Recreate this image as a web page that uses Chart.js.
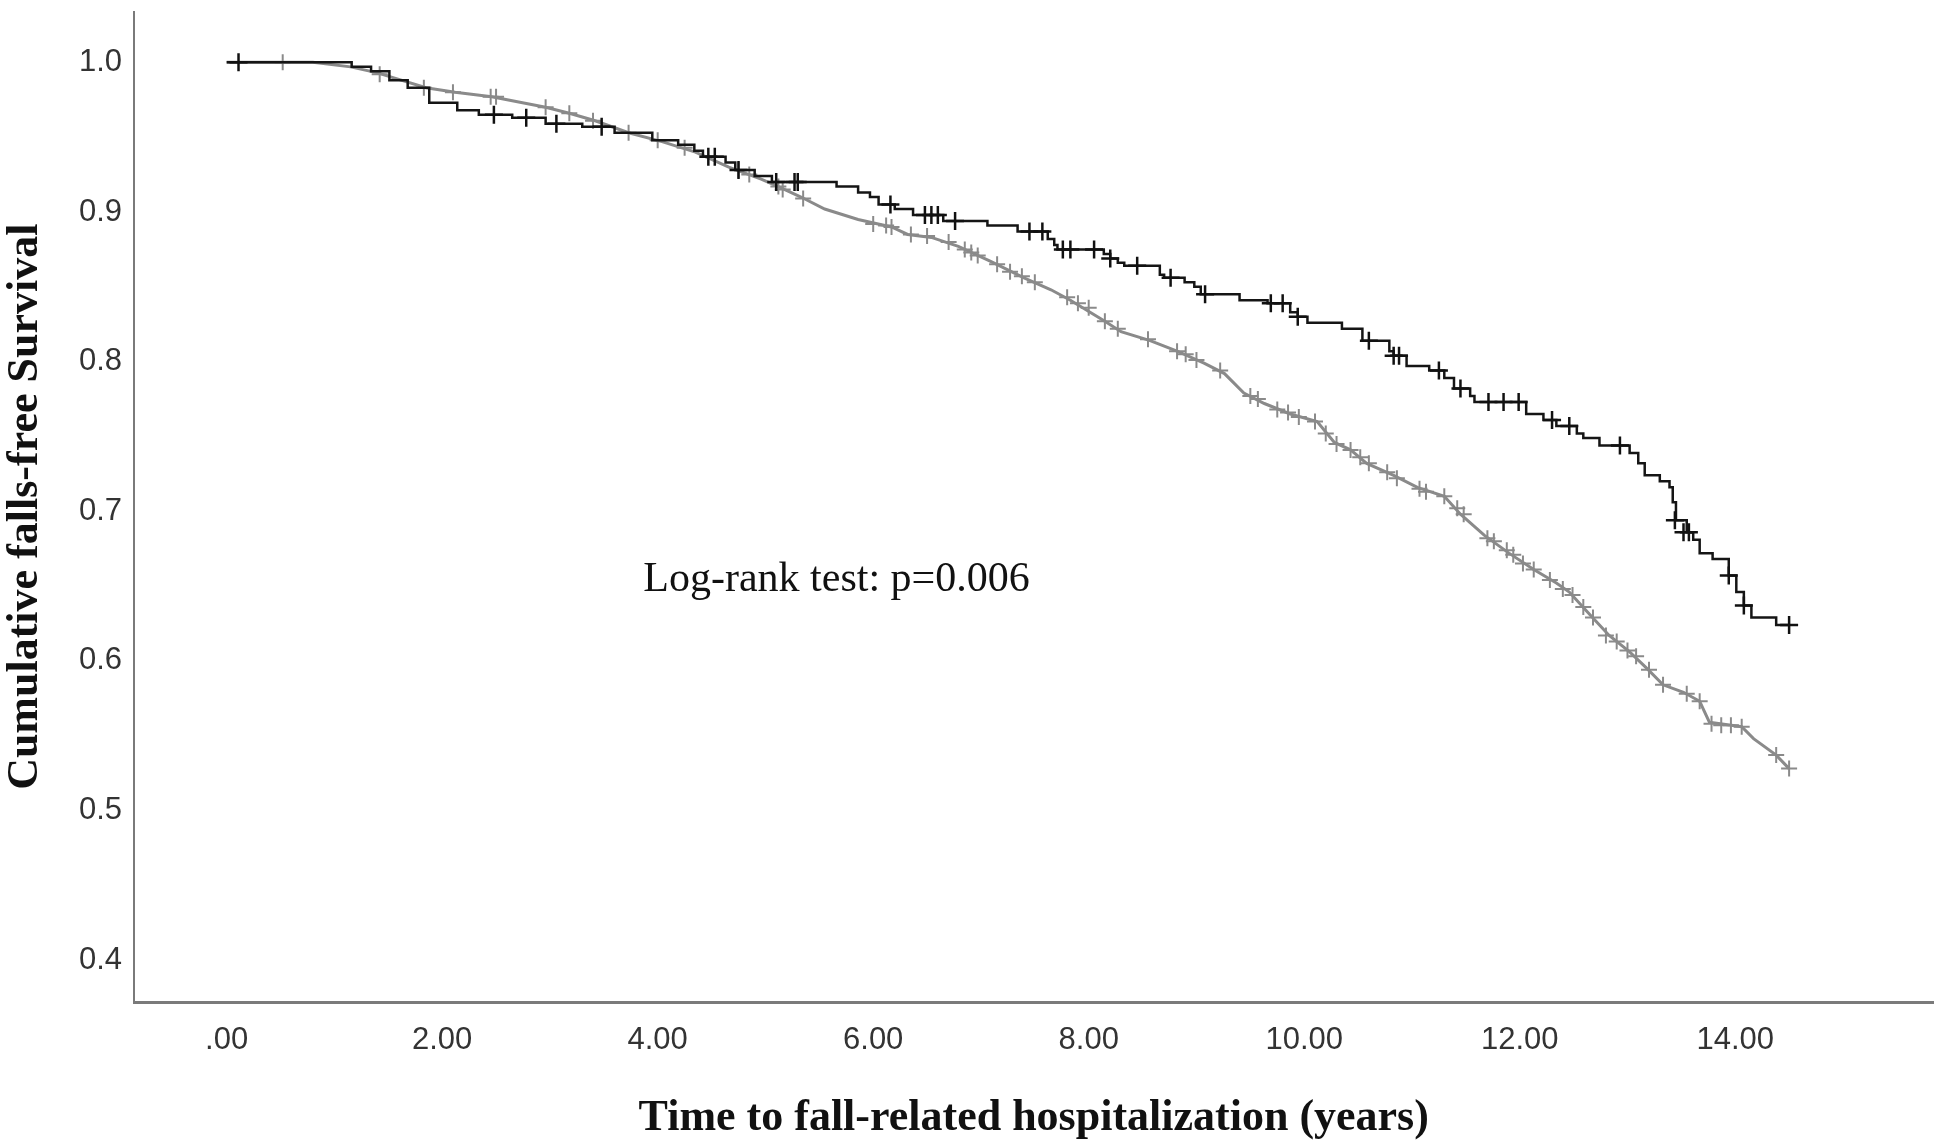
<!DOCTYPE html>
<html>
<head>
<meta charset="utf-8">
<title>Cumulative falls-free survival</title>
<script src="https://cdn.jsdelivr.net/npm/chart.js@4.4.1/dist/chart.umd.min.js"></script>
<style>
  html, body { margin: 0; padding: 0; background: #fff; }
  #wrap { width: 1945px; height: 1146px; }
</style>
</head>
<body>
<div id="wrap"><canvas id="km" width="1945" height="1146"></canvas></div>
<script>
// tick labels
const xTicks = [0, 2, 4, 6, 8, 10, 12, 14];
const yTicks = [0.4, 0.5, 0.6, 0.7, 0.8, 0.9, 1.0];

// black group: event times (years) and survival after the step
const blackTimes = [0, 1.16, 1.34, 1.51, 1.68, 1.88, 2.14, 2.34, 2.65, 2.96, 3.3, 3.6, 3.95, 4.19, 4.34, 4.42, 4.63, 4.72, 4.9, 5.06,
  5.66, 5.86, 5.97, 6.05, 6.2, 6.37, 6.65, 7.06, 7.34, 7.62, 7.68, 7.71, 8.14, 8.2, 8.27, 8.33, 8.66, 8.7, 8.89, 8.98,
  9.04, 9.4, 9.66, 9.87, 9.94, 10.03, 10.35, 10.54, 10.79, 10.83, 10.95, 11.16, 11.3, 11.39, 11.54, 11.58, 12.06, 12.22, 12.34, 12.53,
  12.59, 12.74, 13.02, 13.1, 13.16, 13.3, 13.39, 13.42, 13.45, 13.55, 13.61, 13.67, 13.79, 13.94, 14.01, 14.08, 14.15, 14.38, 14.5];
const blackSurv = [1.0, 0.997, 0.994, 0.988, 0.983, 0.973, 0.968, 0.965, 0.963, 0.959, 0.957, 0.953, 0.948, 0.945, 0.941, 0.937, 0.933, 0.928, 0.924, 0.92,
  0.917, 0.913, 0.91, 0.905, 0.902, 0.898, 0.894, 0.891, 0.887, 0.882, 0.878, 0.875, 0.872, 0.869, 0.866, 0.864, 0.858, 0.856, 0.853, 0.85,
  0.845, 0.841, 0.839, 0.833, 0.83, 0.826, 0.822, 0.814, 0.807, 0.804, 0.797, 0.794, 0.789, 0.782, 0.777, 0.773, 0.765, 0.761, 0.757, 0.752,
  0.749, 0.744, 0.739, 0.732, 0.724, 0.72, 0.716, 0.706, 0.694, 0.686, 0.681, 0.672, 0.668, 0.657, 0.646, 0.637, 0.629, 0.624, 0.624];

// black group: censored cases
const blackCensTimes = [0.11, 2.48, 2.78, 3.06, 3.48, 4.47, 4.53, 4.75, 5.1, 5.27, 5.3, 6.16, 6.48, 6.54, 6.6, 6.76, 7.45, 7.57, 7.76, 7.83,
  8.05, 8.2, 8.45, 8.76, 9.08, 9.69, 9.8, 9.94, 10.6, 10.83, 10.88, 11.25, 11.45, 11.71, 11.85, 11.99, 12.3, 12.46, 12.93, 13.44,
  13.52, 13.57, 13.94, 14.08, 14.5];
const blackCensSurv = [1.0, 0.965, 0.963, 0.959, 0.957, 0.937, 0.937, 0.928, 0.92, 0.92, 0.92, 0.905, 0.898, 0.898, 0.898, 0.894, 0.887, 0.887, 0.875, 0.875,
  0.875, 0.869, 0.864, 0.856, 0.845, 0.839, 0.839, 0.83, 0.814, 0.804, 0.804, 0.794, 0.782, 0.773, 0.773, 0.773, 0.761, 0.757, 0.744, 0.694,
  0.686, 0.686, 0.657, 0.637, 0.624];

// grey group: survival curve
const greyTimes = [0, 0.8, 1.15, 1.4, 1.85, 2.12, 2.46, 2.96, 3.18, 3.42, 3.73, 4.04, 4.35, 4.66, 4.96, 5.12, 5.33, 5.55, 5.86, 6.17,
  6.32, 6.54, 6.79, 7.09, 7.4, 7.65, 7.83, 8.15, 8.3, 8.57, 8.82, 9.07, 9.26, 9.44, 9.63, 9.87, 10.12, 10.28, 10.43, 10.58,
  10.83, 11.05, 11.3, 11.45, 11.67, 11.9, 12.13, 12.34, 12.46, 12.65, 12.83, 13.02, 13.18, 13.33, 13.52, 13.67, 13.76, 14.06, 14.17, 14.38, 14.5];
const greySurv = [1.0, 1.0, 0.997, 0.993, 0.983, 0.98, 0.977, 0.97, 0.966, 0.961, 0.953, 0.947, 0.94, 0.93, 0.922, 0.917, 0.91, 0.902, 0.895, 0.89,
  0.885, 0.883, 0.877, 0.867, 0.856, 0.848, 0.841, 0.827, 0.82, 0.814, 0.807, 0.799, 0.792, 0.779, 0.772, 0.765, 0.76, 0.746, 0.741, 0.732,
  0.724, 0.716, 0.71, 0.698, 0.684, 0.672, 0.661, 0.652, 0.646, 0.631, 0.617, 0.606, 0.595, 0.584, 0.579, 0.573, 0.559, 0.556, 0.548, 0.537, 0.528];

// grey group: censored cases
const greyCensTimes = [0.52, 1.42, 1.83, 2.1, 2.45, 2.5, 2.96, 3.18, 3.4, 3.73, 4.0, 4.25, 4.75, 4.85, 5.12, 5.16, 5.35, 6.0, 6.12, 6.17,
  6.35, 6.5, 6.7, 6.85, 6.91, 6.97, 7.15, 7.27, 7.38, 7.5, 7.8, 7.9, 8.0, 8.15, 8.27, 8.55, 8.82, 8.9, 9.0, 9.22,
  9.5, 9.57, 9.75, 9.85, 9.95, 10.1, 10.2, 10.3, 10.43, 10.52, 10.6, 10.77, 10.86, 11.07, 11.13, 11.3, 11.42, 11.48, 11.7, 11.76,
  11.88, 11.94, 12.03, 12.13, 12.28, 12.4, 12.49, 12.59, 12.68, 12.8, 12.9, 13.0, 13.08, 13.2, 13.33, 13.55, 13.67, 13.78, 13.87, 13.96,
  14.06, 14.38, 14.5];
const greyCensSurv = [1.0, 0.992, 0.983, 0.98, 0.977, 0.977, 0.97, 0.966, 0.961, 0.953, 0.948, 0.943, 0.928, 0.925, 0.917, 0.915, 0.909, 0.892, 0.891, 0.89,
  0.885, 0.884, 0.88, 0.875, 0.873, 0.871, 0.865, 0.86, 0.857, 0.853, 0.843, 0.839, 0.836, 0.827, 0.822, 0.815, 0.807, 0.805, 0.801, 0.794,
  0.777, 0.775, 0.768, 0.766, 0.763, 0.76, 0.752, 0.745, 0.741, 0.736, 0.732, 0.726, 0.722, 0.715, 0.713, 0.71, 0.702, 0.698, 0.682, 0.68,
  0.674, 0.671, 0.665, 0.661, 0.654, 0.648, 0.644, 0.636, 0.629, 0.617, 0.613, 0.607, 0.603, 0.594, 0.584, 0.578, 0.573, 0.558, 0.557, 0.557,
  0.556, 0.537, 0.528];

const logRankText = 'Log-rank test: p=0.006';

const pts = (xs, ys) => xs.map((x, i) => ({ x: x, y: ys[i] }));

// log-rank note inside the plot area
const notePlugin = {
  id: 'note',
  afterDatasetsDraw(chart) {
    const ctx = chart.ctx;
    const x = chart.scales.x.getPixelForValue(5.66);
    const y = chart.scales.y.getPixelForValue(0.654);
    ctx.save();
    ctx.font = '42px "Liberation Serif", "Times New Roman", serif';
    ctx.fillStyle = '#111';
    ctx.textAlign = 'center';
    ctx.textBaseline = 'middle';
    ctx.fillText(logRankText, x, y);
    ctx.restore();
  }
};

new Chart(document.getElementById('km'), {
  type: 'line',
  data: {
    datasets: [
      {
        label: 'black censored',
        type: 'scatter',
        data: pts(blackCensTimes, blackCensSurv),
        showLine: false,
        pointStyle: 'cross',
        pointRadius: 9,
        pointBorderWidth: 2.5,
        borderColor: '#111',
        order: 0
      },
      {
        label: 'black',
        data: pts(blackTimes, blackSurv),
        stepped: true,
        borderColor: '#151515',
        borderWidth: 2.5,
        pointRadius: 0,
        fill: false,
        order: 1
      },
      {
        label: 'grey censored',
        type: 'scatter',
        data: pts(greyCensTimes, greyCensSurv),
        showLine: false,
        pointStyle: 'cross',
        pointRadius: 8,
        pointBorderWidth: 2,
        borderColor: '#8a8a8a',
        order: 2
      },
      {
        label: 'grey',
        data: pts(greyTimes, greySurv),
        borderColor: '#8a8a8a',
        borderWidth: 3,
        tension: 0,
        pointRadius: 0,
        fill: false,
        order: 3
      }
    ]
  },
  options: {
    responsive: false,
    animation: false,
    devicePixelRatio: 1,
    layout: { padding: { top: 6, right: 7, left: 0, bottom: 0 } },
    plugins: {
      legend: { display: false },
      tooltip: { enabled: false }
    },
    scales: {
      x: {
        type: 'linear',
        min: -0.86,
        max: 15.84,
        afterFit(scale) {
          scale.height = 144;
          scale.paddingLeft = 0;
          scale.paddingRight = 0;
        },
        afterBuildTicks(scale) { scale.ticks = xTicks.map(v => ({ value: v })); },
        grid: { display: false, drawTicks: false, tickLength: 0 },
        border: { display: true, color: '#7a7a7a', width: 3 },
        ticks: {
          padding: 20,
          color: '#333',
          font: { family: '"Liberation Sans", Arial, sans-serif', size: 31 },
          callback: v => (v === 0 ? '.00' : v.toFixed(2))
        },
        title: {
          display: true,
          text: 'Time to fall-related hospitalization (years)',
          color: '#111',
          font: { family: '"Liberation Serif", "Times New Roman", serif', size: 44, weight: 'bold' },
          padding: { top: 0, bottom: 1 }
        }
      },
      y: {
        type: 'linear',
        min: 0.372,
        max: 1.034,
        afterFit(scale) {
          scale.width = 134;
          scale.paddingTop = 0;
          scale.paddingBottom = 0;
        },
        afterBuildTicks(scale) { scale.ticks = yTicks.map(v => ({ value: v })); },
        grid: { display: false, drawTicks: false, tickLength: 0 },
        border: { display: true, color: '#7a7a7a', width: 2 },
        ticks: {
          padding: 12,
          color: '#333',
          font: { family: '"Liberation Sans", Arial, sans-serif', size: 31 },
          callback: v => v.toFixed(1)
        },
        title: {
          display: true,
          text: 'Cumulative falls-free Survival',
          color: '#111',
          font: { family: '"Liberation Serif", "Times New Roman", serif', size: 44, weight: 'bold', lineHeight: 1 },
          padding: { top: 4, bottom: 0 }
        }
      }
    }
  },
  plugins: [notePlugin]
});
</script>
</body>
</html>
